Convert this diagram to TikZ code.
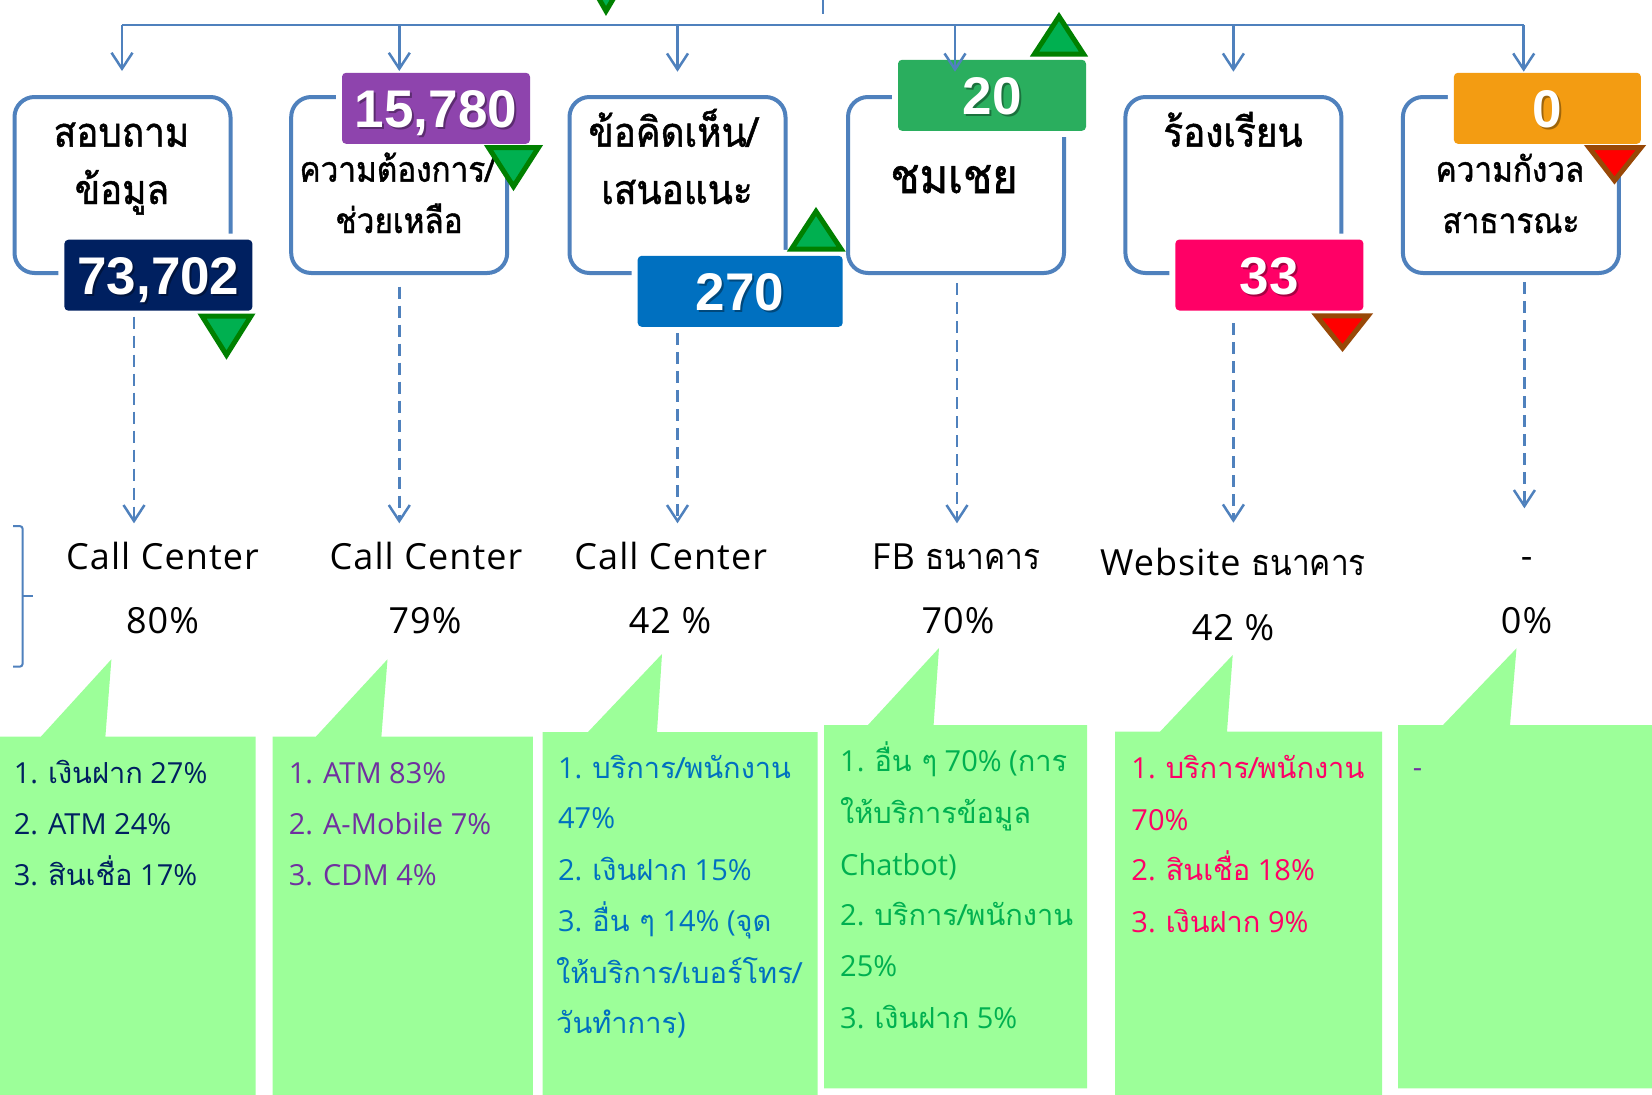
\documentclass[tikz,border=0pt]{standalone}
\usepackage{fontspec}
\setmainfont{Open Sans}
\newfontfamily\thaifont[Script=Thai]{Loma}
\newfontfamily\rowthai[Script=Thai,FakeStretch=0.88]{Loma}
\newfontfamily\boxthai[Script=Thai,FakeStretch=0.9,FakeBold=1.2]{Loma}
\newfontfamily\rowfont[LetterSpace=3]{Open Sans}
\newfontfamily\numfont{Liberation Sans}
\usetikzlibrary{arrows.meta}
\definecolor{boxblue}{HTML}{4F81BD}
\definecolor{bnavy}{HTML}{002060}
\definecolor{bpurple}{HTML}{8E44AD}
\definecolor{bblue}{HTML}{0070C0}
\definecolor{bgreen}{HTML}{2AAE5E}
\definecolor{bpink}{HTML}{FF0066}
\definecolor{borange}{HTML}{F39C12}
\definecolor{cgreen}{HTML}{9CFF99}
\definecolor{tnavy}{HTML}{002060}
\definecolor{tpurple}{HTML}{7030A0}
\definecolor{tblue}{HTML}{0070C0}
\definecolor{tgreen}{HTML}{00B050}
\definecolor{tpink}{HTML}{FF0066}
\definecolor{trigreen}{HTML}{00B050}
\definecolor{triedge}{HTML}{008000}
\definecolor{trired}{HTML}{FF0000}
\definecolor{triredge}{HTML}{984807}
\newcommand{\thtxt}[1]{{\thaifont #1}}
\newcommand{\rthtxt}[1]{{\rowthai #1}}
\begin{document}
\begin{tikzpicture}[x=1pt,y=-1pt,
  catbox/.style={draw=boxblue,line width=4pt,rounded corners=20pt,minimum width=216pt,minimum height=176pt,inner sep=0pt},
  badge/.style={rounded corners=4pt,inner sep=0pt,minimum height=71pt,preaction={draw=white,line width=12pt}},
  numtxt/.style={inner sep=0pt,text=white,font=\numfont\bfseries\fontsize{53}{53}\selectfont,text height=38pt,text depth=0pt},
  numshadow/.style={numtxt,text=black,text opacity=0.35},
  boxlbl/.style={anchor=base,inner sep=0pt,text=black},
  rowlbl/.style={anchor=base,inner sep=0pt,text=black,font=\rowfont\fontsize{36}{40}\selectfont},
  ctext/.style={anchor=base west,inner sep=0pt,font=\fontsize{29}{35}\selectfont},
  busline/.style={draw=boxblue,line width=2.5pt},
  arr/.style={busline,-{Straight Barb[length=16pt,width=21pt]}},
  dasharr/.style={arr,dash pattern=on 12pt off 7pt},
  callout/.style={fill=cgreen},
  gtri/.style={fill=trigreen,draw=triedge,line width=5pt},
  rtri/.style={fill=trired,draw=triredge,line width=5pt},
]
\useasboundingbox (0,0) rectangle (1652,1095);
\fill[white] (0,0) rectangle (1652,1095);

% trunk and bus
\coordinate (trunkA) at (823,0);
\coordinate (trunkB) at (823,14);
\draw[busline] (trunkA) -- (trunkB);
\coordinate (bus1) at (122,25);
\coordinate (bus2) at (399.3,25);
\coordinate (bus3) at (677.5,25);
\coordinate (bus4) at (955,25);
\coordinate (bus5) at (1233.4,25);
\coordinate (bus6) at (1523.7,25);
\draw[busline] (bus1) -- (bus6);

% cut triangle at top
\begin{scope}
\clip (0,0) rectangle (1652,1095);
\draw[gtri] (582,-31) -- (631,-31) -- (606,11) -- cycle;
\end{scope}

% column 1
\node[catbox] (b1) at (122.5,185) {};
\node[boxlbl,font=\boxthai\fontsize{41}{48}\selectfont] (b1a) at (121.5,146.7) {สอบถาม};
\node[boxlbl,font=\boxthai\fontsize{41}{48}\selectfont] (b1b) at (122,204) {ข้อมูล};
\node[badge,fill=bnavy,minimum width=188pt] (n1) at (158.4,275.2) {};
\node[numshadow] (n1s) at ([shift={(2,2)}]n1.center) {73,702};
\node[numtxt] (n1t) at (n1.center) {73,702};
\draw[gtri] (202,316) -- (251,316) -- (226.5,355) -- cycle;

% column 2
\node[catbox] (b2) at (399.2,185) {};
\node[boxlbl,font=\boxthai\fontsize{35}{40}\selectfont] (b2a) at (397,181.7) {ความต้องการ/};
\node[boxlbl,font=\boxthai\fontsize{35}{40}\selectfont] (b2b) at (399,233) {ช่วยเหลือ};
\node[badge,fill=bpurple,minimum width=188pt] (n2) at (436,108.3) {};
\node[numshadow] (n2s) at ([shift={(2,2)}]n2.center) {15,780};
\node[numtxt] (n2t) at (n2.center) {15,780};
\draw[gtri] (488.5,147.5) -- (538.5,147.5) -- (513.5,186.5) -- cycle;

% column 3
\node[catbox] (b3) at (677.5,185) {};
\node[boxlbl,font=\boxthai\fontsize{41}{48}\selectfont] (b3a) at (673,146.7) {ข้อคิดเห็น/};
\node[boxlbl,font=\boxthai\fontsize{41}{48}\selectfont] (b3b) at (677,204) {เสนอแนะ};
\node[badge,fill=bblue,minimum width=205pt] (n3) at (740.2,291.3) {};
\node[numshadow] (n3s) at ([shift={(2,2)}]n3.center) {270};
\node[numtxt] (n3t) at (n3.center) {270};
\draw[gtri] (791.5,249) -- (841,249) -- (816,211.5) -- cycle;

% column 4
\node[catbox] (b4) at (956,185) {};
\node[boxlbl,font=\boxthai\fontsize{48}{54}\selectfont] (b4a) at (954,193) {ชมเชย};
\node[badge,fill=bgreen,minimum width=188pt] (n4) at (992,95.3) {};
\node[numshadow] (n4s) at ([shift={(2,2)}]n4.center) {20};
\node[numtxt] (n4t) at (n4.center) {20};
\draw[gtri] (1034.5,54) -- (1083.5,54) -- (1059,16.5) -- cycle;

% column 5
\node[catbox] (b5) at (1233.4,185) {};
\node[boxlbl,font=\boxthai\fontsize{41}{48}\selectfont] (b5a) at (1233,146.7) {ร้องเรียน};
\node[badge,fill=bpink,minimum width=188pt] (n5) at (1269.4,275) {};
\node[numshadow] (n5s) at ([shift={(2,2)}]n5.center) {33};
\node[numtxt] (n5t) at (n5.center) {33};
\draw[rtri] (1316.5,315.8) -- (1368,315.8) -- (1342.5,348) -- cycle;

% column 6
\node[catbox] (b6) at (1510.9,185) {};
\node[boxlbl,font=\boxthai\fontsize{35}{40}\selectfont] (b6a) at (1510,181.7) {ความกังวล};
\node[boxlbl,font=\boxthai\fontsize{35}{40}\selectfont] (b6b) at (1511,233) {สาธารณะ};
\node[badge,fill=borange,minimum width=187pt] (n6) at (1547.4,108.3) {};
\node[numshadow] (n6s) at ([shift={(2,2)}]n6.center) {0};
\node[numtxt] (n6t) at (n6.center) {0};
\draw[rtri] (1589,147.5) -- (1641,147.5) -- (1614.5,180.5) -- cycle;

% top arrows
\coordinate (t1) at (122,71);
\coordinate (t2) at (399.3,71);
\coordinate (t3) at (677.5,71.7);
\coordinate (t4) at (955,71.7);
\coordinate (t5) at (1233.4,71.7);
\coordinate (t6) at (1523.7,71.7);
\foreach \i in {1,...,6} {\draw[arr] (bus\i) -- (t\i);}

% dashed arrows
\coordinate (d1a) at (134,316.7);   \coordinate (d1b) at (134,523.3);
\coordinate (d2a) at (399.3,286.7); \coordinate (d2b) at (399.3,523.3);
\coordinate (d3a) at (677.5,333);   \coordinate (d3b) at (677.5,523.3);
\coordinate (d4a) at (957,283);     \coordinate (d4b) at (957,523.3);
\coordinate (d5a) at (1233.4,323);  \coordinate (d5b) at (1233.4,522.7);
\coordinate (d6a) at (1524.4,282);  \coordinate (d6b) at (1524.4,508.3);
\foreach \i in {1,...,6} {\draw[dasharr] (d\i a) -- (d\i b);}

% bracket
\draw[busline,line width=2pt,rounded corners=3pt] (13,526) -- (22.7,526) -- (22.7,666.7) -- (13,666.7);
\draw[busline,line width=2pt] (22.7,596) -- (33,596);

% row labels
\node[rowlbl] (r1a) at (162.5,569.3) {Call Center};
\node[rowlbl] (r1b) at (162.5,633.3) {80\%};
\node[rowlbl] (r2a) at (426,569.3) {Call Center};
\node[rowlbl] (r2b) at (425,633.3) {79\%};
\node[rowlbl] (r3a) at (670.7,569.3) {Call Center};
\node[rowlbl] (r3b) at (670,633.3) {42 \%};
\node[rowlbl] (r4a) at (956,569.3) {FB \rthtxt{ธนาคาร}};
\node[rowlbl] (r4b) at (958,633.3) {70\%};
\node[rowlbl] (r5a) at (1233,575) {Website \rthtxt{ธนาคาร}};
\node[rowlbl] (r5b) at (1233,640) {42 \%};
\node[rowlbl] (r6a) at (1526.6,568) {-};
\node[rowlbl] (r6b) at (1526.6,633.3) {0\%};

% callouts
\fill[callout] (0,736.5) -- (41,736.5) -- (111.4,659.3) -- (105.4,736.5) -- (255.7,736.5) -- (255.7,1095) -- (0,1095) -- cycle;
\fill[callout] (272.5,736.5) -- (316,736.5) -- (387.5,659.3) -- (381.4,736.5) -- (532.9,736.5) -- (532.9,1095) -- (272.5,1095) -- cycle;
\fill[callout] (542.5,732) -- (588,732) -- (662,654) -- (657,732) -- (817.5,732) -- (817.5,1095) -- (542.5,1095) -- cycle;
\fill[callout] (824,725) -- (868,725) -- (939,648) -- (933.6,725) -- (1087,725) -- (1087,1088.3) -- (824,1088.3) -- cycle;
\fill[callout] (1115,731.7) -- (1160,731.7) -- (1232.7,655) -- (1227,731.7) -- (1382,731.7) -- (1382,1095) -- (1115,1095) -- cycle;
\fill[callout] (1398,725) -- (1443,725) -- (1516.5,648.3) -- (1510,725) -- (1652,725) -- (1652,1088.3) -- (1398,1088.3) -- cycle;

% callout texts
\node[ctext,text=tnavy] (c1a) at (13.6,783) {1. \thtxt{เงินฝาก} 27\%};
\node[ctext,text=tnavy] (c1b) at (13.6,834) {2. ATM 24\%};
\node[ctext,text=tnavy] (c1c) at (13.6,885) {3. \thtxt{สินเชื่อ} 17\%};

\node[ctext,text=tpurple] (c2a) at (288.6,783) {1. ATM 83\%};
\node[ctext,text=tpurple] (c2b) at (288.6,834) {2. A-Mobile 7\%};
\node[ctext,text=tpurple] (c2c) at (288.6,885) {3. CDM 4\%};

\node[ctext,text=tblue] (c3a) at (557.9,778.3) {1. \thtxt{บริการ/พนักงาน}};
\node[ctext,text=tblue] (c3b) at (557.9,828.3) {47\%};
\node[ctext,text=tblue] (c3c) at (557.9,880) {2. \thtxt{เงินฝาก} 15\%};
\node[ctext,text=tblue] (c3d) at (557.9,931.7) {3. \thtxt{อื่น ๆ} 14\% (\thtxt{จุด}};
\node[ctext,text=tblue] (c3e) at (556,983.3) {\thtxt{ให้บริการ/เบอร์โทร/}};
\node[ctext,text=tblue] (c3f) at (556,1033.3) {\thtxt{วันทำการ})};

\node[ctext,text=tgreen] (c4a) at (840,771.7) {1. \thtxt{อื่น ๆ} 70\% (\thtxt{การ}};
\node[ctext,text=tgreen] (c4b) at (840,823.3) {\thtxt{ให้บริการข้อมูล}};
\node[ctext,text=tgreen] (c4c) at (840,875) {Chatbot)};
\node[ctext,text=tgreen] (c4d) at (840,925) {2. \thtxt{บริการ/พนักงาน}};
\node[ctext,text=tgreen] (c4e) at (840,976.7) {25\%};
\node[ctext,text=tgreen] (c4f) at (840,1028.3) {3. \thtxt{เงินฝาก} 5\%};

\node[ctext,text=tpink] (c5a) at (1131.2,778.3) {1. \thtxt{บริการ/พนักงาน}};
\node[ctext,text=tpink] (c5b) at (1131.2,830) {70\%};
\node[ctext,text=tpink] (c5c) at (1131.2,880.7) {2. \thtxt{สินเชื่อ} 18\%};
\node[ctext,text=tpink] (c5d) at (1131.2,932.7) {3. \thtxt{เงินฝาก} 9\%};

\node[ctext,text=tpurple] (c6a) at (1412.6,777) {-};
\end{tikzpicture}
\end{document}
